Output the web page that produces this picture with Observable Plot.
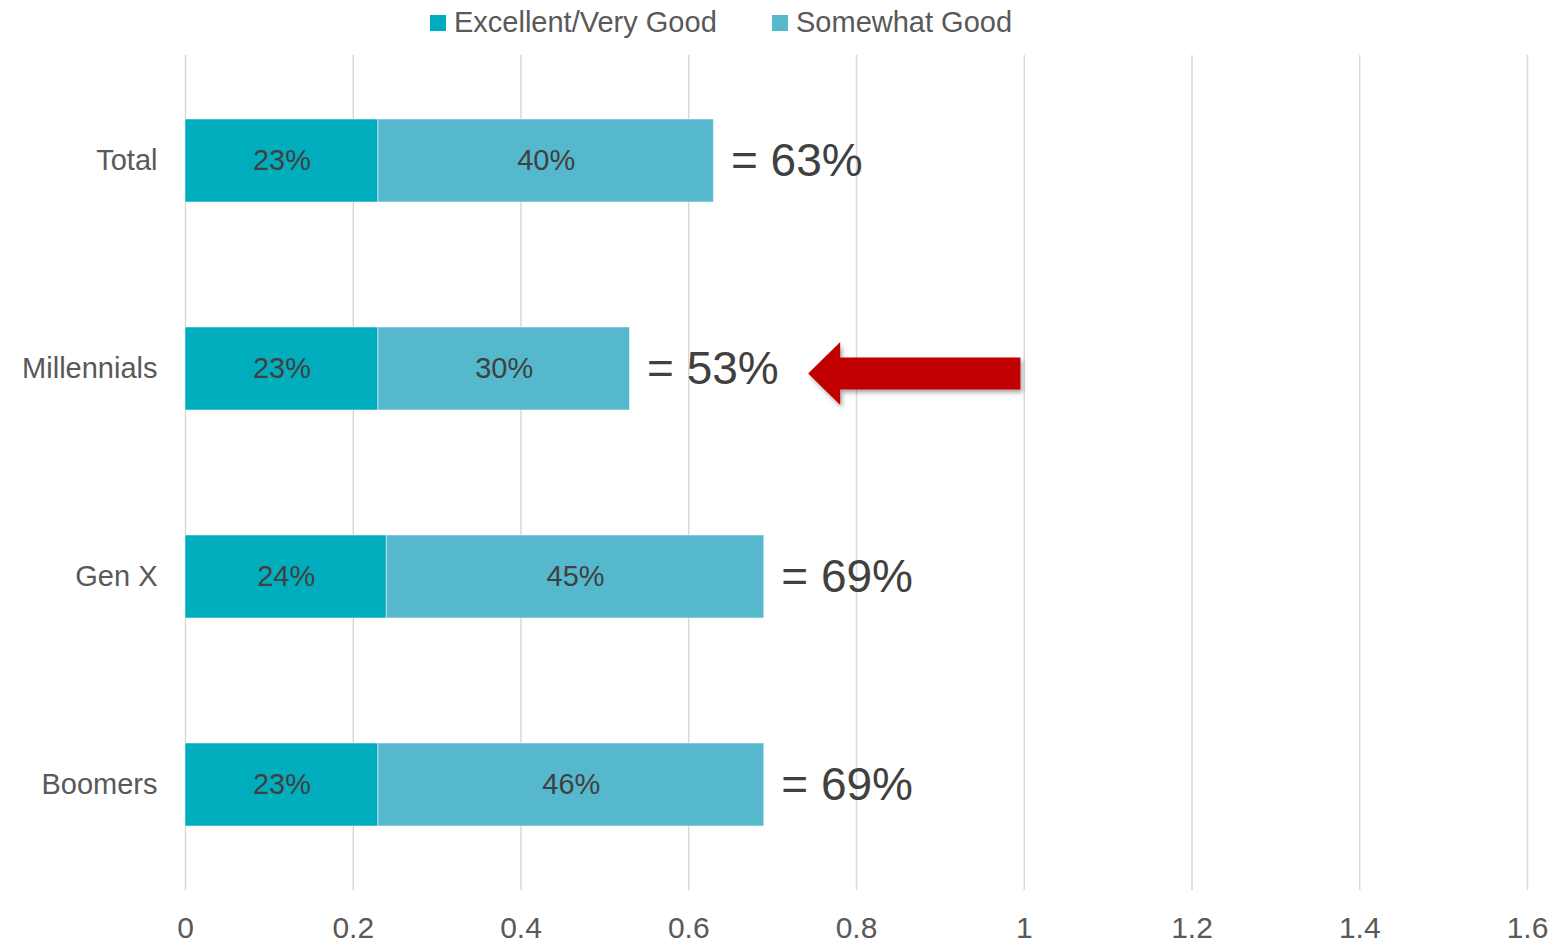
<!DOCTYPE html>
<html>
<head>
<meta charset="utf-8">
<script src="https://cdn.jsdelivr.net/npm/d3@7"></script>
<script src="https://cdn.jsdelivr.net/npm/@observablehq/plot@0.6"></script>
<style>
  html, body { margin: 0; padding: 0; background: #fff; }
  body { width: 1564px; height: 943px; overflow: hidden; font-family: "Liberation Sans", Arial, sans-serif; }
  #legend { position: relative; height: 45px; }
  .li { position: absolute; top: 0; height: 45px; display: flex; align-items: center; font-size: 29px; color: #595959; }
  .sw { width: 16px; height: 16px; margin-right: 8px; }
</style>
</head>
<body>
<div id="legend"></div>
<div id="chart"></div>
<script>
const groups = ["Total", "Millennials", "Gen X", "Boomers"];
const seriesNames = ["Excellent/Very Good", "Somewhat Good"];
const excellent = [0.23, 0.23, 0.24, 0.23];
const somewhat = [0.40, 0.30, 0.45, 0.46];
const totals = [0.63, 0.53, 0.69, 0.69];
const colors = ["#00ADBC", "#56B8CD"];
const xTicks = [0, 0.2, 0.4, 0.6, 0.8, 1, 1.2, 1.4, 1.6];
const arrowGroup = "Millennials";
const arrowFrom = 0.996;
const arrowTo = 0.743;

const rows = [];
groups.forEach((g, i) => {
  rows.push({group: g, series: seriesNames[0], value: excellent[i]});
  rows.push({group: g, series: seriesNames[1], value: somewhat[i]});
});
const totalRows = groups.map((g, i) => ({group: g, total: totals[i]}));

// legend
const legend = document.getElementById("legend");
const legendLeft = [430, 772];
seriesNames.forEach((s, i) => {
  const item = document.createElement("div");
  item.className = "li";
  item.style.left = legendLeft[i] + "px";
  item.innerHTML = `<div class="sw" style="background:${colors[i]}"></div><span>${s}</span>`;
  legend.appendChild(item);
});

const pct = d => Math.round(d * 100) + "%";
const fmt = d => String(+d.toFixed(1));

const plot = Plot.plot({
  width: 1564,
  height: 898,
  marginLeft: 185,
  marginRight: 37,
  marginTop: 10,
  marginBottom: 53,
  style: {fontFamily: "'Liberation Sans', Arial, sans-serif", background: "#fff"},
  x: {domain: [0, 1.6], ticks: xTicks, tickFormat: fmt, tickSize: 0, tickPadding: 26, label: null},
  y: {domain: groups, paddingInner: 0.6, paddingOuter: 0.3, tickSize: 0, tickPadding: 28, label: null},
  color: {domain: seriesNames, range: colors},
  marks: [
    Plot.ruleX(xTicks, {stroke: "#D9D9D9", strokeWidth: 1.5}),
    Plot.barX(rows, Plot.stackX({x: "value", y: "group", fill: "series", stroke: "#ffffff", strokeOpacity: 0.5, strokeWidth: 1})),
    Plot.text(rows, Plot.stackX({x: "value", y: "group", text: d => pct(d.value), fill: "#404040", fontSize: 29})),
    Plot.text(totalRows, {x: "total", y: "group", text: d => "= " + pct(d.total), textAnchor: "start", dx: 17, fill: "#404040", fontSize: 46}),
    Plot.axisX({ticks: xTicks, tickFormat: fmt, tickSize: 0, tickPadding: 26, fontSize: 30, color: "#595959", label: null}),
    Plot.axisY({tickSize: 0, tickPadding: 28, fontSize: 29, color: "#595959", label: null})
  ]
});

// annotation arrow, placed with the plot's own scales
const sx = plot.scale("x"), sy = plot.scale("y");
const x0 = sx.apply(arrowFrom), x1 = sx.apply(arrowTo);
const cy = sy.apply(arrowGroup) + sy.bandwidth / 2 + 5;
const shaftH = 32, headH = 63, headL = 32;
const pts = [
  [x1, cy],
  [x1 + headL, cy - headH / 2],
  [x1 + headL, cy - shaftH / 2],
  [x0, cy - shaftH / 2],
  [x0, cy + shaftH / 2],
  [x1 + headL, cy + shaftH / 2],
  [x1 + headL, cy + headH / 2]
];
const svg = d3.select(plot);
svg.append("defs").html(`<filter id="ash" x="-20%" y="-40%" width="140%" height="180%"><feDropShadow dx="2" dy="3" stdDeviation="2" flood-color="#000" flood-opacity="0.35"/></filter>`);
svg.append("polygon")
  .attr("points", pts.map(d => d.join(",")).join(" "))
  .attr("fill", "#C00000")
  .attr("filter", "url(#ash)");

document.getElementById("chart").appendChild(plot);
</script>
</body>
</html>
